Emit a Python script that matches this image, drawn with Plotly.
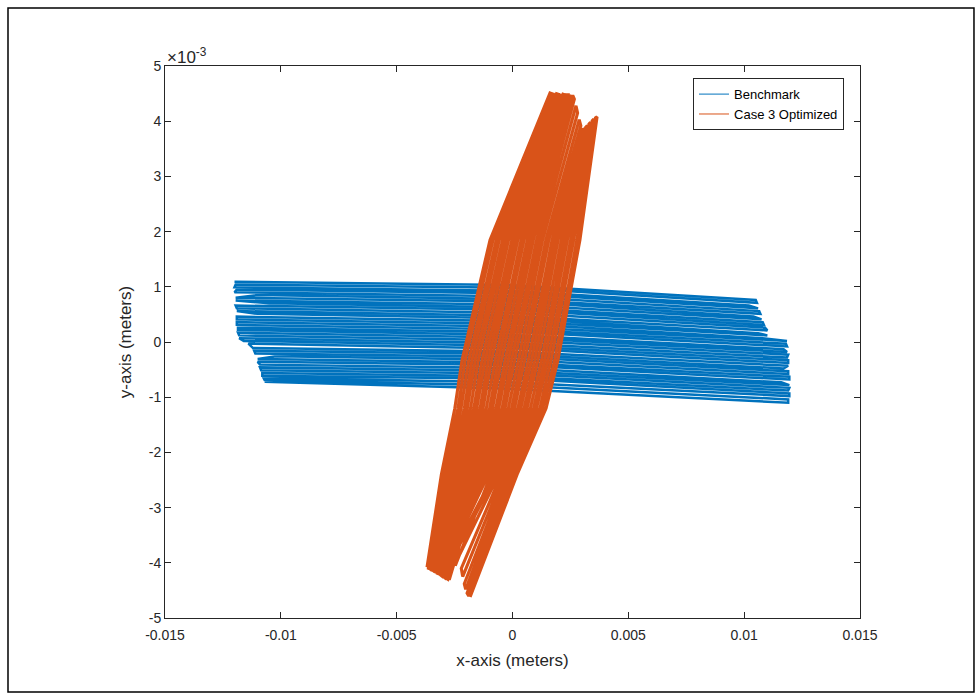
import plotly.graph_objects as go

# ---------------- data (units of 1e-3 m) ----------------
# Benchmark: near-horizontal strokes (left end, middle, right end)
blue_x_left = [-12.0, -11.95, -12.0, -11.9, -12.0, -11.0, -11.95, -11.95, -10.5, -11.95,
               -11.9, -11.9, -11.0, -11.9, -11.9, -11.9, -11.9, -11.85, -11.85, -11.85,
               -11.8, -11.8, -11.6, -11.4, -11.2, -11.15, -11.1, -10.2, -11.0, -11.0,
               -10.9, -10.9, -10.85, -10.8, -10.8, -10.75, -10.7, -10.7]
blue_y_left = [1.09, 1.04, 0.99, 0.95, 0.90, 0.85, 0.80, 0.75, 0.70, 0.66,
               0.61, 0.56, 0.51, 0.46, 0.41, 0.36, 0.31, 0.26, 0.22, 0.17,
               0.12, 0.07, 0.02, -0.03, -0.11, -0.16, -0.21, -0.26, -0.31, -0.36,
               -0.41, -0.46, -0.51, -0.56, -0.61, -0.65, -0.69, -0.72]
blue_x_mid = [0.0, 0.2, -0.3, 0.1, 0.0, -0.2, 0.3, 0.0, -0.1, 0.2,
              0.0, -0.3, 0.1, 0.0, 0.2, -0.1, 0.0, 0.3, -0.2, 0.0,
              0.1, -0.1, 0.0, 0.2, -0.3, 0.0, 0.1, 0.0, -0.2, 0.2,
              0.0, -0.1, 0.1, 0.0, 0.3, -0.2, 0.0, 0.0]
blue_y_mid = [1.03, 0.98, 0.93, 0.88, 0.83, 0.78, 0.73, 0.68, 0.63, 0.58,
              0.53, 0.48, 0.43, 0.38, 0.33, 0.28, 0.23, 0.18, 0.13, 0.08,
              0.03, -0.02, -0.07, -0.12, -0.17, -0.22, -0.27, -0.32, -0.37, -0.42,
              -0.47, -0.52, -0.57, -0.62, -0.67, -0.73, -0.79, -0.85]
blue_x_right = [10.5, 10.55, 10.2, 10.6, 10.65, 10.7, 10.4, 10.75, 10.8, 10.85,
                10.9, 11.0, 10.6, 11.0, 10.8, 11.85, 11.8, 11.85, 11.7, 11.85,
                11.9, 11.85, 11.9, 11.9, 11.9, 11.7, 11.9, 11.9, 11.95, 11.95,
                11.6, 11.95, 11.95, 11.9, 11.95, 11.95, 11.9, 11.9]
blue_y_right = [0.76, 0.71, 0.66, 0.61, 0.56, 0.51, 0.46, 0.41, 0.36, 0.31,
                0.26, 0.21, 0.16, 0.12, 0.07, 0.02, -0.03, -0.08, -0.13, -0.18,
                -0.23, -0.28, -0.33, -0.38, -0.43, -0.48, -0.53, -0.58, -0.63, -0.68,
                -0.73, -0.78, -0.83, -0.88, -0.93, -0.98, -1.04, -1.10]

# Case 3 Optimized: near-vertical strokes (top, y=1.85, y=-0.33, y=-1.2, y=-2.4, bottom)
orange_x_top = [1.62, 1.69, 1.76, 1.83, 1.90, 1.97, 2.04, 2.11, 2.18, 2.25,
                2.32, 2.39, 2.46, 2.53, 2.60, 2.67, 2.74, 2.81, 2.88, 2.95,
                3.02, 3.09, 3.16, 3.23, 3.30, 3.37, 3.44, 3.51, 3.58, 3.65]
orange_y_top = [4.51, 4.50, 4.50, 4.45, 4.50, 4.49, 4.49, 4.42, 4.49, 4.48,
                4.48, 4.48, 4.40, 4.48, 4.47, 4.40, 4.28, 4.15, 4.03, 3.92,
                3.85, 3.86, 3.89, 3.92, 3.95, 3.98, 4.01, 4.04, 4.06, 4.08]
orange_level_y = [1.85, -0.33, -1.2, -2.4]
orange_x_l1 = [-0.97, -0.84, -0.70, -0.57, -0.43, -0.30, -0.17, -0.03, 0.10, 0.23,
               0.37, 0.50, 0.64, 0.77, 0.90, 1.04, 1.17, 1.30, 1.44, 1.57,
               1.71, 1.84, 1.97, 2.11, 2.24, 2.37, 2.51, 2.64, 2.78, 2.91]
orange_x_l2 = [-2.18, -2.04, -1.89, -1.75, -1.61, -1.47, -1.32, -1.18, -1.04, -0.90,
               -0.75, -0.61, -0.47, -0.32, -0.18, -0.04, 0.10, 0.25, 0.39, 0.53,
               0.68, 0.82, 0.96, 1.10, 1.25, 1.39, 1.53, 1.67, 1.82, 1.96]
orange_x_l3 = [-2.49, -2.35, -2.22, -2.08, -1.95, -1.81, -1.67, -1.54, -1.40, -1.27,
               -1.13, -0.99, -0.86, -0.72, -0.59, -0.45, -0.32, -0.18, -0.04, 0.09,
               0.23, 0.36, 0.50, 0.63, 0.77, 0.91, 1.04, 1.18, 1.31, 1.45]
orange_x_l4 = [-3.07, -2.96, -2.84, -2.73, -2.62, -2.51, -2.39, -2.28, -2.17, -2.06,
               -1.94, -1.83, -1.72, -1.60, -1.49, -1.38, -1.27, -1.15, -1.04, -0.93,
               -0.81, -0.70, -0.59, -0.48, -0.36, -0.25, -0.14, -0.02, 0.09, 0.20]
orange_x_bot = [-3.69, -3.63, -3.56, -3.50, -3.43, -3.37, -3.31, -3.24, -3.18, -3.11,
                -3.05, -2.98, -2.92, -2.86, -2.79, -2.73, -2.66, -2.60, -2.53, -2.47,
                -2.41, -2.34, -2.28, -2.21, -2.15, -2.08, -2.02, -1.96, -1.89, -1.83]
orange_y_bot = [-4.08, -4.10, -4.11, -4.13, -4.14, -4.16, -4.17, -4.19, -4.20, -4.22,
                -4.24, -4.25, -4.27, -4.28, -4.30, -4.31, -3.95, -3.80, -3.72, -4.05,
                -3.70, -3.72, -3.85, -4.10, -4.25, -4.38, -4.48, -4.55, -4.60, -4.62]

x_ticks = [-0.015, -0.01, -0.005, 0, 0.005, 0.01, 0.015]
x_tick_text = ["-0.015", "-0.01", "-0.005", "0", "0.005", "0.01", "0.015"]
y_ticks = [-5, -4, -3, -2, -1, 0, 1, 2, 3, 4, 5]
y_tick_text = ["-5", "-4", "-3", "-2", "-1", "0", "1", "2", "3", "4", "5"]
series_names = ["Benchmark", "Case 3 Optimized"]
series_colors = ["#0072BD", "#D95319"]
S = 1e-3

# ---------------- build paths ----------------
bx, by = [], []
for i in range(len(blue_y_left)):
    pts = [(blue_x_left[i], blue_y_left[i]), (blue_x_mid[i], blue_y_mid[i]),
           (blue_x_right[i], blue_y_right[i])]
    if i % 2:
        pts = pts[::-1]
    for px, py in pts:
        bx.append(px * S)
        by.append(py * S)

ox, oy = [], []
for i in range(len(orange_x_top)):
    xs = [orange_x_bot[i], orange_x_l4[i], orange_x_l3[i], orange_x_l2[i], orange_x_l1[i], orange_x_top[i]]
    ys = [orange_y_bot[i]] + orange_level_y[::-1] + [orange_y_top[i]]
    pts = list(zip(xs, ys))
    if i % 2:
        pts = pts[::-1]
    for px, py in pts:
        ox.append(px * S)
        oy.append(py * S)

AX = "#262626"
FONT = "Liberation Sans, Arial, sans-serif"

fig = go.Figure()
fig.add_trace(go.Scatter(x=bx, y=by, mode="lines",
                         line=dict(color=series_colors[0], width=2.5, simplify=False),
                         showlegend=False, hoverinfo="skip"))
fig.add_trace(go.Scatter(x=ox, y=oy, mode="lines",
                         line=dict(color=series_colors[1], width=3.1, simplify=False),
                         showlegend=False, hoverinfo="skip"))
for nm, col in zip(series_names, series_colors):
    fig.add_trace(go.Scatter(x=[None], y=[None], mode="lines", name=nm,
                             line=dict(color=col, width=1)))

axis_common = dict(showline=True, linecolor=AX, linewidth=1, mirror="allticks",
                   ticks="inside", ticklen=6, tickcolor=AX, tickwidth=1,
                   showgrid=False, zeroline=False,
                   tickfont=dict(family=FONT, size=14, color=AX))

fig.update_xaxes(range=[-0.015, 0.015], tickvals=x_ticks, ticktext=x_tick_text,
                 ticklabelstandoff=4,
                 title=dict(text="x-axis (meters)", font=dict(family=FONT, size=17, color=AX), standoff=12),
                 **axis_common)
fig.update_yaxes(range=[-5 * S, 5 * S], tickvals=[v * S for v in y_ticks], ticktext=y_tick_text,
                 title=dict(text="y-axis (meters)", font=dict(family=FONT, size=17, color=AX), standoff=12),
                 **axis_common)

fig.add_annotation(xref="paper", yref="paper", x=0, y=1, xanchor="left", yanchor="bottom",
                   text="×10<sup>-3</sup>", showarrow=False, xshift=0, yshift=-3,
                   font=dict(family=FONT, size=17, color=AX))

fig.add_shape(type="rect", xref="paper", yref="paper",
              x0=-0.2259, x1=1.164, y0=-0.134, y1=1.105,
              line=dict(color="black", width=1.5), fillcolor="rgba(0,0,0,0)", layer="below")

fig.update_layout(
    width=976, height=696,
    margin=dict(l=165, r=116, t=66, b=78, autoexpand=False),
    paper_bgcolor="white", plot_bgcolor="white",
    legend=dict(x=0.977, y=0.978, xanchor="right", yanchor="top",
                bgcolor="white", bordercolor=AX, borderwidth=1,
                font=dict(family=FONT, size=13, color="black"),
                tracegroupgap=0, itemwidth=30),
    font=dict(family=FONT, color=AX),
)

fig.write_html("out.html")
